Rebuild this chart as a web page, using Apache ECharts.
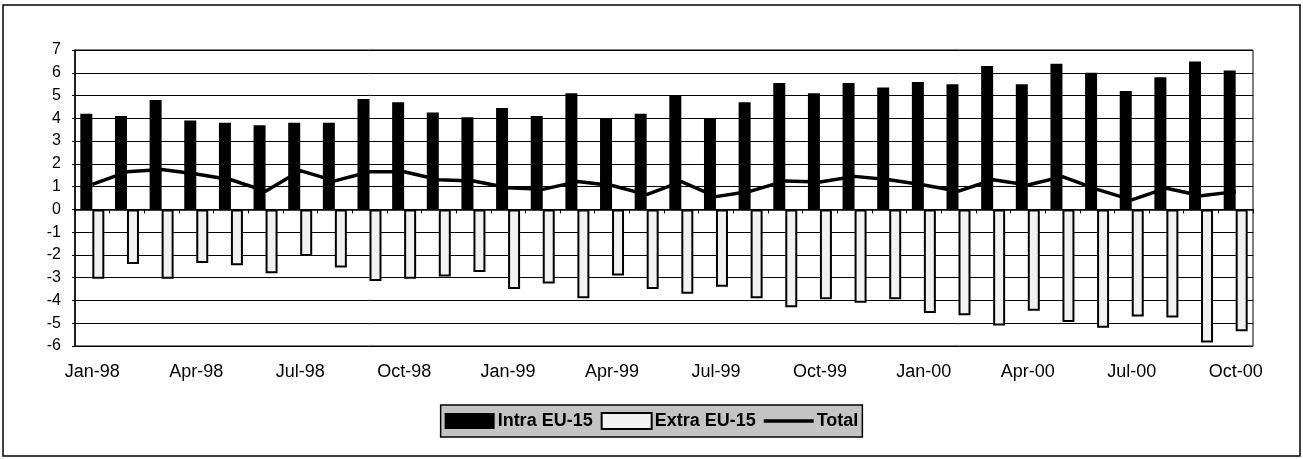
<!DOCTYPE html>
<html>
<head>
<meta charset="utf-8">
<script src="https://cdn.jsdelivr.net/npm/echarts@6/dist/echarts.min.js"></script>
<style>
  html, body { margin: 0; padding: 0; background: #fff; }
  #chart { width: 1303px; height: 459px; }
</style>
</head>
<body>
<div id="chart"></div>
<script>
// Monthly trade balance components, Jan-98 to Oct-00
const months = [
  'Jan-98','Feb-98','Mar-98','Apr-98','May-98','Jun-98','Jul-98','Aug-98','Sep-98','Oct-98','Nov-98','Dec-98',
  'Jan-99','Feb-99','Mar-99','Apr-99','May-99','Jun-99','Jul-99','Aug-99','Sep-99','Oct-99','Nov-99','Dec-99',
  'Jan-00','Feb-00','Mar-00','Apr-00','May-00','Jun-00','Jul-00','Aug-00','Sep-00','Oct-00'
];
const intraEU15 = [
  4.2, 4.1, 4.8, 3.9, 3.8, 3.7, 3.8, 3.8, 4.85, 4.7, 4.25, 4.05,
  4.45, 4.1, 5.1, 4.0, 4.2, 5.0, 4.0, 4.7, 5.55, 5.1, 5.55, 5.35,
  5.6, 5.5, 6.3, 5.5, 6.4, 6.0, 5.2, 5.8, 6.5, 6.1
];
const extraEU15 = [
  -3.05, -2.4, -3.05, -2.35, -2.45, -2.8, -2.05, -2.55, -3.15, -3.05, -2.95, -2.75,
  -3.5, -3.25, -3.9, -2.9, -3.5, -3.7, -3.4, -3.9, -4.3, -3.95, -4.1, -3.95,
  -4.55, -4.65, -5.1, -4.45, -4.95, -5.2, -4.7, -4.75, -5.85, -5.35
];
const total = [
  1.1, 1.65, 1.75, 1.55, 1.3, 0.8, 1.7, 1.25, 1.65, 1.65, 1.3, 1.25,
  0.95, 0.88, 1.22, 1.05, 0.65, 1.22, 0.56, 0.8, 1.25, 1.2, 1.45, 1.3,
  1.07, 0.8, 1.3, 1.07, 1.44, 0.88, 0.42, 0.93, 0.6, 0.78
];
const yTicks = { min: -6, max: 7, step: 1 };

const FONT = '"Liberation Sans", Arial, sans-serif';
const chart = echarts.init(document.getElementById('chart'), null, { renderer: 'canvas' });

chart.setOption({
  animation: false,
  backgroundColor: '#ffffff',
  textStyle: { fontFamily: FONT, color: '#000' },
  graphic: [{
    type: 'rect',
    shape: { x: 3, y: 5, width: 1297, height: 451 },
    style: { fill: 'none', stroke: '#000', lineWidth: 1.5 },
    silent: true,
    z: -1
  }],
  grid: {
    left: 75, right: 50, top: 50, bottom: 113,
    show: true, borderColor: '#000', borderWidth: 1, backgroundColor: 'transparent'
  },
  legend: {
    bottom: 22,
    left: 'center',
    padding: [7, 4, 7, 4],
    itemGap: 8,
    itemWidth: 50,
    itemHeight: 16,
    backgroundColor: '#c4c4c4',
    borderColor: '#000',
    borderWidth: 1.5,
    borderRadius: 0,
    textStyle: { fontFamily: FONT, fontSize: 18, fontWeight: 'bold', color: '#000', padding: [0, 0, 0, -2] },
    data: [
      { name: 'Intra EU-15', icon: 'rect' },
      { name: 'Extra EU-15', icon: 'rect' },
      { name: 'Total', icon: 'path://M0,0 L50,0 L50,3.5 L0,3.5 Z', itemStyle: { color: '#000', borderWidth: 0 } }
    ]
  },
  xAxis: [
    {
      // axis drawn through zero with category tick marks
      type: 'category',
      data: months,
      boundaryGap: true,
      axisLine: { show: true, onZero: true, lineStyle: { color: '#000', width: 1.5 } },
      axisTick: { show: true, interval: 0, length: 4, inside: false, lineStyle: { color: '#000' } },
      axisLabel: { show: false },
      splitLine: { show: false }
    },
    {
      // quarterly month labels along the bottom of the plot
      type: 'category',
      data: months,
      position: 'bottom',
      boundaryGap: true,
      axisLine: { show: false, onZero: false },
      axisTick: { show: false },
      axisLabel: {
        show: true, interval: 2, margin: 17,
        fontFamily: FONT, fontSize: 18, color: '#000'
      },
      splitLine: { show: false }
    }
  ],
  yAxis: {
    type: 'value',
    min: yTicks.min, max: yTicks.max, interval: yTicks.step,
    axisLine: { show: true, lineStyle: { color: '#000', width: 1.5 } },
    axisTick: { show: true, length: 3, lineStyle: { color: '#000' } },
    axisLabel: { fontFamily: FONT, fontSize: 16, color: '#000', margin: 14 },
    splitLine: { show: true, lineStyle: { color: '#000', width: 1 } }
  },
  series: [
    {
      name: 'Intra EU-15',
      type: 'bar',
      xAxisIndex: 0,
      data: intraEU15,
      barWidth: 12,
      barGap: '0%',
      itemStyle: { color: '#000' },
      z: 2
    },
    {
      name: 'Extra EU-15',
      type: 'bar',
      xAxisIndex: 0,
      data: extraEU15,
      barWidth: 12,
      barGap: '0%',
      itemStyle: { color: '#f2f2f2', borderColor: '#000', borderWidth: 2 },
      z: 2
    },
    {
      name: 'Total',
      type: 'line',
      xAxisIndex: 0,
      data: total,
      symbol: 'none',
      showSymbol: false,
      lineStyle: { color: '#000', width: 3.5 },
      itemStyle: { color: '#000' },
      z: 3
    }
  ]
});
</script>
</body>
</html>
